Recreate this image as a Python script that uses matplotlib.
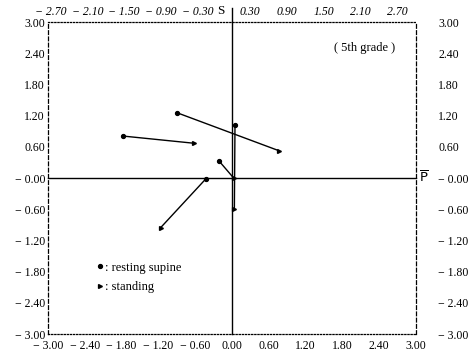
import matplotlib.pyplot as plt
from matplotlib.lines import Line2D

# each subject: resting supine point -> standing point
supine_x = [-0.90, -1.78, -0.21, 0.05, -0.43]
supine_y = [1.26, 0.81, 0.33, 1.02, -0.02]
standing_x = [0.76, -0.61, 0.03, 0.04, -1.16]
standing_y = [0.53, 0.67, 0.00, -0.60, -0.95]

bottom_ticks = [-3.0, -2.4, -1.8, -1.2, -0.6, 0.0, 0.6, 1.2, 1.8, 2.4, 3.0]
top_ticks = [-2.7, -2.1, -1.5, -0.9, -0.3, 0.3, 0.9, 1.5, 2.1, 2.7]
y_ticks = [3.0, 2.4, 1.8, 1.2, 0.6, 0.0, -0.6, -1.2, -1.8, -2.4, -3.0]


def fmt(v, zero_minus=False):
    if v < 0 or (v == 0 and zero_minus):
        return "\u2212 %.2f" % abs(v)
    return "%.2f" % v


plt.rcParams['font.family'] = ['Liberation Serif', 'DejaVu Serif']

fig = plt.figure(figsize=(4.69, 3.57), dpi=100)
ax = fig.add_axes([0.102, 0.064, 0.785, 0.874])
ax.set_xlim(-3, 3)
ax.set_ylim(-3, 3)

# frame: dotted top/bottom, dashed sides
for side in ['top', 'bottom']:
    ax.spines[side].set_linestyle((0, (1, 1.5)))
    ax.spines[side].set_linewidth(0.9)
for side in ['left', 'right']:
    ax.spines[side].set_linestyle((0, (3, 2)))
    ax.spines[side].set_linewidth(0.9)

# axes through origin
ax.plot([-3, 3], [0, 0], color='black', lw=1.0, clip_on=False)
ax.plot([0, 0], [-3, 3.27], color='black', lw=1.0, clip_on=False)

for x0, y0, x1, y1 in zip(supine_x, supine_y, standing_x, standing_y):
    ax.plot([x0, x1], [y0, y1], color='black', lw=1.0)
ax.plot(supine_x, supine_y, 'o', color='black', ms=2.8)
ax.plot(standing_x, standing_y, '>', color='black', ms=2.8)

# ticks
ax.set_xticks(bottom_ticks)
ax.set_xticklabels([fmt(v) for v in bottom_ticks], fontsize=8.5)
ax.set_yticks(y_ticks)
ax.set_yticklabels([fmt(v, zero_minus=True) for v in y_ticks], fontsize=8.5)
ax.tick_params(axis='x', length=0, pad=4)
ax.tick_params(axis='y', length=0, pad=2)

top = ax.secondary_xaxis('top')
top.set_xticks(top_ticks)
top.set_xticklabels([fmt(v) for v in top_ticks], fontsize=8.5, style='italic')
top.tick_params(length=0, pad=3)
for lab, v in zip(top.get_xticklabels(), top_ticks):
    if v < 0:
        lab.set_ha('right')
top.spines['top'].set_visible(False)

right = ax.secondary_yaxis('right')
right.set_yticks(y_ticks)
right.set_yticklabels([fmt(v, zero_minus=True) for v in y_ticks], fontsize=8.5)
right.tick_params(length=0, pad=16)
right.spines['right'].set_visible(False)

# axis names
ax.text(-0.12, 1.035, 'S', transform=ax.get_xaxis_transform(), ha='right',
        va='center', fontsize=9.5)
ax.text(1.008, 0.0, r'$\overline{\mathrm{P}}$', transform=ax.get_yaxis_transform(),
        ha='left', va='center', fontsize=9.5)

ax.text(0.86, 0.917, '( 5th grade )', transform=ax.transAxes, ha='center',
        va='center', fontsize=9)

handles = [Line2D([], [], marker='o', ls='', color='black', ms=2.8),
           Line2D([], [], marker='>', ls='', color='black', ms=2.8)]
ax.legend(handles, [': resting supine', ': standing'], loc='lower left',
          bbox_to_anchor=(0.10, 0.095), frameon=False, fontsize=9,
          handlelength=0.6, handletextpad=0.1, labelspacing=0.6)

plt.savefig('out.png', dpi=100)
